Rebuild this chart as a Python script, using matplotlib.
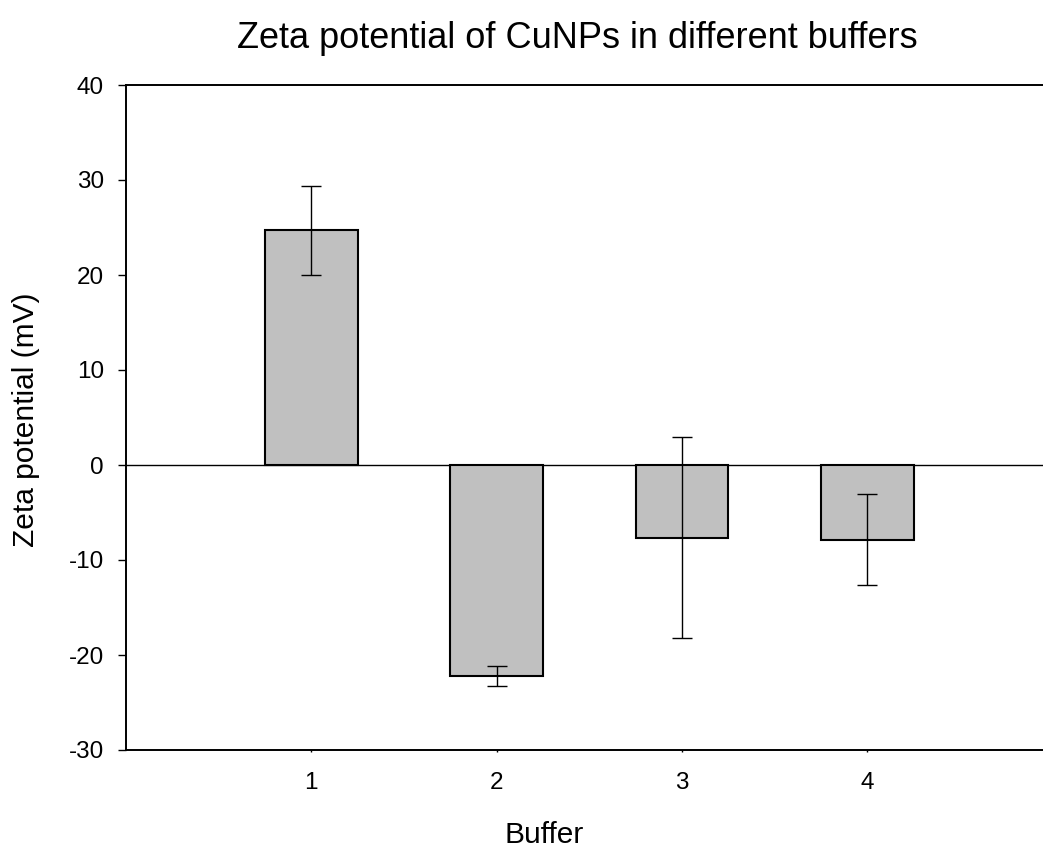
import matplotlib
matplotlib.use("Agg")
import matplotlib.pyplot as plt

plt.rcParams['font.family'] = ['Liberation Sans', 'DejaVu Sans']
plt.rcParams['axes.unicode_minus'] = False

buffers = [1, 2, 3, 4]
zeta_mean = [24.7, -22.2, -7.65, -7.85]
zeta_err = [4.7, 1.05, 10.55, 4.8]
tick_labels = ['1', '2', '3', '4']
yticks = [-30, -20, -10, 0, 10, 20, 30, 40]

fig = plt.figure(figsize=(10.43, 8.5), dpi=100)
# axes runs past the right edge of the figure on purpose
ax = fig.add_axes([126/1043, 1 - 750/850, 926.5/1043, 665/850])

ax.axhline(0, color='black', lw=1.0, zorder=1)
ax.bar(buffers, zeta_mean, width=0.5, color='#c0c0c0', edgecolor='black',
       linewidth=1.5, zorder=2)
ax.errorbar(buffers, zeta_mean, yerr=zeta_err, fmt='none', ecolor='black',
            elinewidth=1.0, capsize=7, capthick=1.0, zorder=3)

ax.set_xlim(0, 5)
ax.set_ylim(-30, 40)
ax.set_xticks(buffers)
ax.set_xticklabels(tick_labels)
ax.set_yticks(yticks)

for side in ['left', 'top', 'bottom']:
    ax.spines[side].set_linewidth(1.4)
ax.spines['right'].set_visible(False)

ax.tick_params(axis='y', direction='out', length=6, width=1.0, pad=10, labelsize=17.5)
ax.tick_params(axis='x', direction='out', length=1.5, width=1.0, pad=14, labelsize=17.5)

ax.set_xlabel('Buffer', fontsize=21.5)
ax.xaxis.set_label_coords(0.451, -0.107)
ax.set_ylabel('Zeta potential (mV)', fontsize=21.5)
ax.yaxis.set_label_coords(-0.093, 0.496)

fig.text(577/1043, 1 - 38/850, 'Zeta potential of CuNPs in different buffers',
         ha='center', va='center', fontsize=26)

fig.savefig('out.png', dpi=100)
